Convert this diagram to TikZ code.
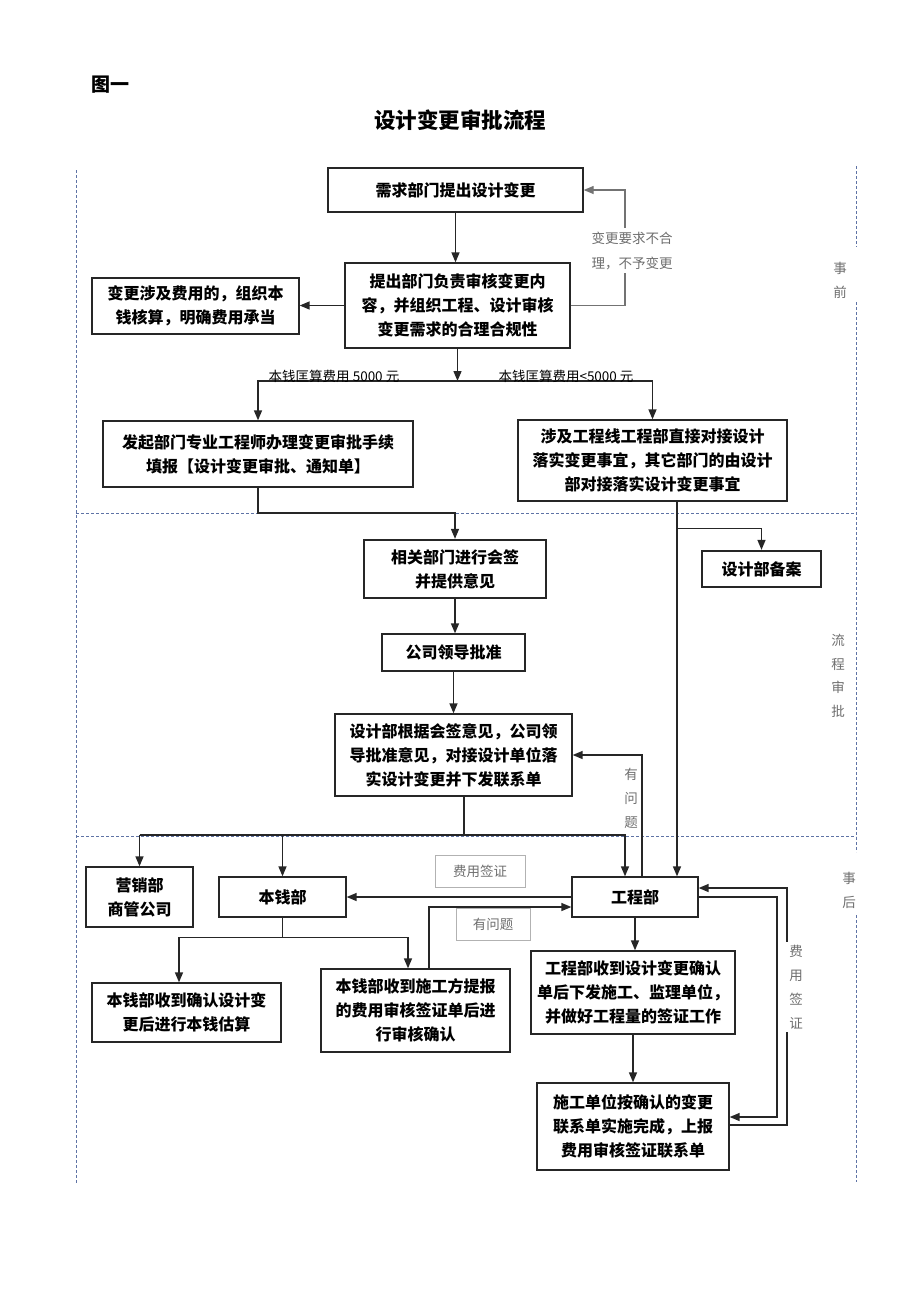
\documentclass[tikz,border=0pt]{standalone}
\usepackage{fontspec}
\setmainfont{Noto Sans CJK SC}
\usetikzlibrary{arrows.meta,calc}
\definecolor{dashcol}{RGB}{95,115,165}
\definecolor{notecol}{RGB}{110,110,110}

\begin{document}
\begin{tikzpicture}[x=1pt,y=-1pt,line width=1.4pt,draw=black!85,>={Triangle[length=10pt,width=8pt]}]
        %
        % `proc' is used for the process boxes, `procbold' for the two heavy ones.
        % `note' is used for the small grey label boxes, `side' for grey texts.
        % `stagedash' is used for the stage frame.
        \tikzstyle{proc} = [draw=black!85,fill=white,line width=1.3pt,align=center,inner sep=0pt,font=\fontsize{16}{24}\selectfont\bfseries]
        \tikzstyle{procbold} = [proc,line width=2.3pt]
        \tikzstyle{note} = [draw=gray!60,line width=0.9pt,text=notecol,inner sep=0pt,font=\fontsize{13.5}{20}\selectfont]
        \tikzstyle{side} = [text=notecol,align=center,font=\fontsize{13.5}{24}\selectfont]
        \tikzstyle{stagedash} = [draw=dashcol,line width=0.8pt,densely dashed]
        \tikzstyle{backline} = [draw=black!55,line width=1.2pt]
        %
        \useasboundingbox (0,0) rectangle (920,1302);
        %
        % Titles
        \node[font=\fontsize{19}{19}\selectfont\bfseries] (fig) at (110,85) {图一};
        \node[font=\fontsize{21.5}{22}\selectfont\bfseries] (title) at (460,120) {设计变更审批流程};
        %
        % Stage frame
        \draw[stagedash] (76,170) -- (76,1183);
        \draw[stagedash] (856,166) -- (856,247);
        \draw[stagedash] (856,302) -- (856,852);
        \draw[stagedash] (856,915) -- (856,1182);
        \draw[stagedash] (76,513) -- (856,513);
        \draw[stagedash] (76,836) -- (856,836);
        \node[side] (before) at (840,280.5) {事\\前};
        \node[side,font=\fontsize{13.5}{23.5}\selectfont] (during) at (838,676) {流\\程\\审\\批};
        \node[side] (after) at (849,890) {事\\后};
        %
        % Row 1
        \node[proc,minimum width=255pt,minimum height=44pt] (need) at (455.5,190) {需求部门提出设计变更};
        \node[proc,minimum width=225pt,minimum height=85pt] (review) at (457.5,305.5) {提出部门负责审核变更内\\容，并组织工程、设计审核\\变更需求的合理合规性};
        \node[proc,minimum width=207pt,minimum height=56pt] (cost) at (195.5,306) {变更涉及费用的，组织本\\钱核算，明确费用承当};
        %
        % Row 2
        \node[proc,minimum width=310pt,minimum height=66pt] (apply) at (258,454) {发起部门专业工程师办理变更审批手续\\填报【设计变更审批、通知单】};
        \node[proc,minimum width=269pt,minimum height=81pt] (direct) at (652.5,460.5) {涉及工程线工程部直接对接设计\\落实变更事宜，其它部门的由设计\\部对接落实设计变更事宜};
        %
        % Row 3
        \node[procbold,minimum width=182pt,minimum height=58pt] (sign) at (455,569) {相关部门进行会签\\并提供意见};
        \node[procbold,minimum width=119pt,minimum height=36pt] (archive) at (761.5,569) {设计部备案};
        \node[proc,minimum width=143pt,minimum height=37pt] (approve) at (453.5,652.5) {公司领导批准};
        \node[proc,minimum width=237pt,minimum height=82pt] (issue) at (453.5,755) {设计部根据会签意见，公司领\\导批准意见，对接设计单位落\\实设计变更并下发联系单};
        %
        % Row 4
        \node[proc,minimum width=107pt,minimum height=60pt] (market) at (139.5,897) {营销部\\商管公司};
        \node[proc,minimum width=127pt,minimum height=40pt] (budget) at (282.5,897) {本钱部};
        \node[proc,minimum width=126pt,minimum height=40pt] (eng) at (635,897) {工程部};
        \node[note,minimum width=90pt,minimum height=32pt] (feenote) at (480,871) {费用签证};
        \node[note,minimum width=74pt,minimum height=32pt] (asknote) at (493,924) {有问题};
        %
        % Row 5
        \node[proc,minimum width=189pt,minimum height=59pt] (estimate) at (186.5,1012.5) {本钱部收到确认设计变\\更后进行本钱估算};
        \node[proc,minimum width=189pt,minimum height=83pt] (audit) at (415.5,1010.5) {本钱部收到施工方提报\\的费用审核签证单后进\\行审核确认};
        \node[proc,minimum width=204pt,minimum height=83pt] (notice) at (633,992.5) {工程部收到设计变更确认\\单后下发施工、监理单位，\\并做好工程量的签证工作};
        \node[proc,minimum width=192pt,minimum height=87pt] (finish) at (633,1126.5) {施工单位按确认的变更\\联系单实施完成，上报\\费用审核签证联系单};
        %
        % Before: request and check
        \draw[->] (need.south) -- (need.south |- review.north);
        \coordinate (rejrail) at (625,0);
        \draw[->,backline] (review.east) -| (rejrail |- need.east) -- (need.east);
        \node[side,fill=white,font=\fontsize{13.5}{25}\selectfont] (rejnote) at (632,250.5) {变更要求不合\\理，不予变更};
        \draw[->] (review.west) -- (cost.east |- review.west);
        \coordinate (split) at (457.5,381);
        \draw[->] (review.south) -- (split);
        \draw[->] (split) -| (apply.north);
        \draw[->] (split) -| (direct.north);
        \node[font=\fontsize{13.5}{14}\selectfont] (bignote) at (334,376) {本钱匡算费用 5000 元};
        \node[font=\fontsize{13.5}{14}\selectfont] (smallnote) at (566,376) {本钱匡算费用<5000 元};
        %
        % Approval
        \coordinate (join) at (455,513);
        \draw[->] (apply.south) |- (join) -- (sign.north);
        \draw[->] (sign.south) -- (sign.south |- approve.north);
        \draw[->] (approve.south) -- (issue.north);
        \coordinate (dtap) at ($(direct.south)+(24.5,0)$);
        \draw[->] (dtap) -- (dtap |- eng.north);
        \draw[->] ($(dtap)+(0,27)$) -| (archive.north);
        \coordinate (ptap) at ($(eng.north)+(7,0)$);
        \draw[->] (ptap) |- (issue.east);
        \node[side] (probv) at (631,798) {有\\问\\题};
        %
        % After: distribution
        \coordinate (bus) at (0,835);
        \coordinate (itap) at ($(issue.south)+(10.5,0)$);
        \coordinate (etap) at ($(eng.north)+(-10,0)$);
        \draw (itap) -- (itap |- bus);
        \draw[->] (market.north |- bus) -| (etap);
        \draw[->] (market.north |- bus) -- (market.north);
        \draw[->] (budget.north |- bus) -- (budget.north);
        \draw[->] (eng.west) -- (budget.east);
        \coordinate (atap) at ($(audit.north)+(13.5,0)$);
        \coordinate (engin) at ($(eng.west)+(0,10)$);
        \draw[->] (atap) |- (engin);
        \coordinate (bjoint) at ($(budget.south)+(0,20)$);
        \draw (budget.south) -- (bjoint);
        \draw[->] (bjoint) -| ($(estimate.north)+(-7.5,0)$);
        \draw[->] (bjoint) -| ($(audit.north)+(-7.5,0)$);
        \draw[->] (eng.south) -- (eng.south |- notice.north);
        \draw[->] (notice.south) -- (finish.north);
        %
        % Cost visa loops
        \coordinate (railin) at (777,0);
        \coordinate (railout) at (787,0);
        \coordinate (finin) at ($(finish.east)+(0,-9.5)$);
        \coordinate (finout) at ($(finish.east)+(0,-1.5)$);
        \coordinate (engback) at ($(eng.east)+(0,-9)$);
        \draw[->] (eng.east) -| (railin |- finin) -- (finin);
        \draw[->] (finout) -| (railout |- engback) -- (engback);
        \node[side,fill=white,inner xsep=4pt] (visa) at (796,987) {费\\用\\签\\证};
        %
\end{tikzpicture}
\end{document}
